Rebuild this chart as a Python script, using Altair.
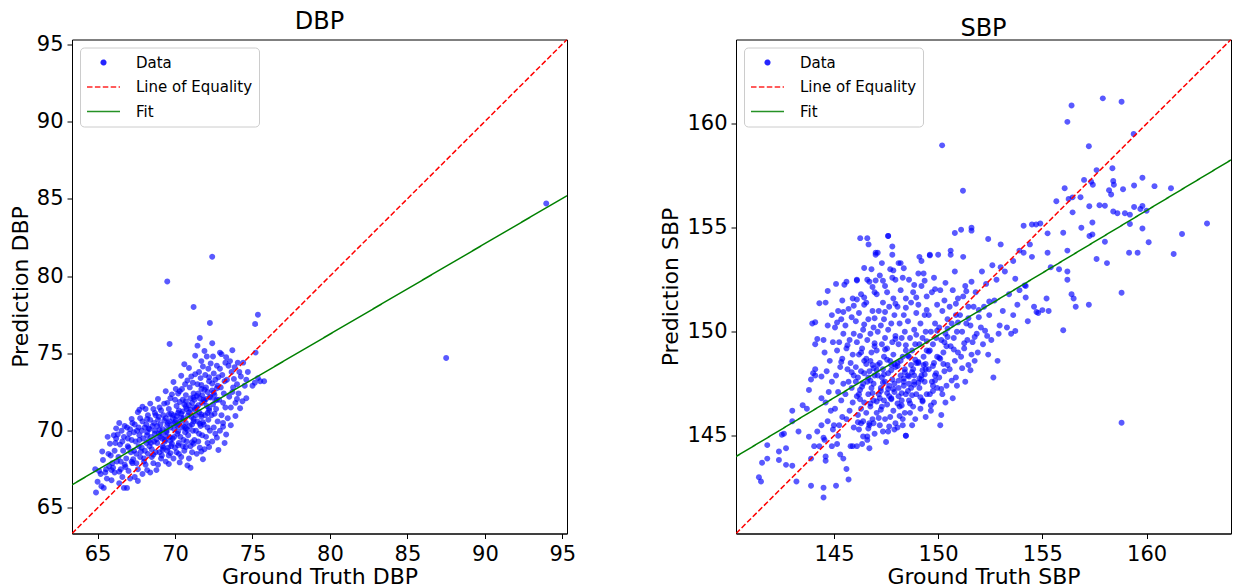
import altair as alt
import pandas as pd

FONT = "DejaVu Sans"

# ---------------- values ----------------
series_names = ["Data", "Line of Equality", "Fit"]
series_colors = ["#0000ff", "#ff0000", "#008000"]

# DBP panel: (ground truth, prediction)
dbp_points = [
    (64.9,66.0),(65.0,66.7),(65.2,67.2),(64.85,67.5),(65.1,67.4),(65.25,66.4),
    (65.4,66.3),(65.6,66.9),(65.5,67.3),(65.75,67.7),(65.35,68.1),(65.65,69.6),(65.55,67.5),(65.7,68.5),
    (65.9,66.8),(66.1,67.3),(66.0,67.6),(66.25,68.0),(65.85,68.4),(66.15,69.2),(66.05,69.7),(66.2,69.5),(66.1,68.7),(65.95,67.9),
    (66.4,66.6),(66.6,67.0),(66.5,67.5),(66.75,67.8),(66.35,68.3),(66.65,68.7),(66.45,69.1),(66.7,69.6),(66.55,70.0),(66.4,70.5),(66.75,70.3),(66.6,69.3),(66.5,68.0),(66.7,66.3),
    (66.9,66.3),(67.1,66.9),(67.0,67.4),(67.25,67.9),(66.85,68.2),(67.15,68.6),(66.95,69.0),(67.2,69.4),(67.05,69.8),(66.9,70.2),(67.25,70.5),(67.1,70.1),(67.0,68.9),(67.2,68.0),(66.95,69.5),
    (67.4,67.0),(67.6,67.5),(67.5,67.9),(67.75,68.3),(67.35,68.7),(67.65,69.0),(67.45,69.3),(67.7,69.7),(67.55,70.0),(67.4,70.4),(67.75,70.8),(67.6,71.2),(67.5,68.5),(67.7,69.4),(67.35,69.9),(67.65,70.2),
    (67.9,67.2),(68.1,67.8),(68.0,68.2),(68.25,68.5),(67.85,68.9),(68.15,69.2),(67.95,69.5),(68.2,69.9),(68.05,70.2),(67.9,70.6),(68.25,71.0),(68.1,71.4),(68.0,68.0),(68.2,69.7),(67.85,70.0),(68.15,70.4),(68.05,68.7),
    (68.4,67.3),(68.6,67.9),(68.5,68.3),(68.75,68.6),(68.35,69.0),(68.65,69.3),(68.45,69.6),(68.7,70.0),(68.55,70.3),(68.4,70.7),(68.75,71.0),(68.6,71.4),(68.5,68.8),(68.7,69.8),(68.35,70.1),(68.65,70.5),(68.45,69.2),
    (68.9,67.8),(69.1,68.2),(69.0,68.6),(69.25,68.9),(68.85,69.2),(69.15,69.5),(68.95,69.8),(69.2,70.1),(69.05,70.4),(68.9,70.7),(69.25,71.0),(69.1,71.3),(69.0,71.5),(69.2,69.0),(68.85,70.3),(69.15,68.4),(69.05,69.6),(68.95,70.9),
    (69.4,68.0),(69.6,68.4),(69.5,68.7),(69.75,69.0),(69.35,69.3),(69.65,69.6),(69.45,69.9),(69.7,70.2),(69.55,70.5),(69.4,70.8),(69.75,71.1),(69.6,71.4),(69.5,71.8),(69.7,72.1),(69.35,69.4),(69.65,70.6),(69.5,79.65),(69.65,75.6),(69.45,70.0),(69.55,68.9),
    (69.9,68.2),(70.1,68.6),(70.0,68.9),(70.25,69.2),(69.85,69.5),(70.15,69.8),(69.95,70.1),(70.2,70.4),(70.05,70.7),(69.9,71.0),(70.25,71.3),(70.1,71.6),(70.0,72.0),(70.2,72.4),(70.05,72.7),(69.95,69.6),(70.15,70.3),(70.25,68.5),(69.85,70.8),
    (70.4,68.3),(70.6,68.7),(70.5,69.0),(70.75,69.3),(70.35,69.6),(70.65,69.9),(70.45,70.2),(70.7,70.5),(70.55,70.8),(70.4,71.1),(70.75,71.4),(70.6,71.7),(70.5,72.0),(70.7,72.3),(70.45,72.7),(70.65,73.0),(70.6,74.3),(70.55,69.4),(70.35,70.6),(70.7,71.9),
    (70.9,68.2),(71.1,68.6),(71.0,69.0),(71.25,69.4),(70.85,69.7),(71.15,70.0),(70.95,70.3),(71.2,70.6),(71.05,70.9),(70.9,71.2),(71.25,71.5),(71.1,71.8),(71.0,72.1),(71.2,72.4),(70.95,72.8),(71.15,73.1),(71.05,73.5),(71.2,78.0),(71.0,67.6),(71.1,70.4),(70.85,71.0),(71.25,72.0),
    (71.4,68.5),(71.6,68.9),(71.5,69.3),(71.75,69.7),(71.35,70.0),(71.65,70.3),(71.45,70.6),(71.7,70.9),(71.55,71.2),(71.4,71.5),(71.75,71.8),(71.6,72.1),(71.5,72.4),(71.7,72.7),(71.45,73.0),(71.65,73.4),(71.55,73.8),(71.7,74.5),(71.45,75.5),(71.6,76.0),(71.35,71.0),(71.55,69.8),(71.75,72.3),
    (71.9,68.8),(72.1,69.2),(72.0,69.6),(72.25,70.0),(71.85,70.4),(72.15,70.7),(71.95,71.0),(72.2,71.3),(72.05,71.6),(71.9,71.9),(72.25,72.2),(72.1,72.5),(72.0,72.8),(72.2,73.2),(71.95,73.6),(72.15,74.0),(72.05,74.8),(72.25,76.96),(72.1,70.2),(71.85,72.0),
    (72.4,69.3),(72.6,69.8),(72.5,70.2),(72.75,70.6),(72.35,71.0),(72.65,71.4),(72.45,71.7),(72.7,72.0),(72.55,72.3),(72.4,72.6),(72.75,72.9),(72.6,73.3),(72.5,73.7),(72.7,74.2),(72.45,74.8),(72.4,75.65),(72.4,81.25),(72.55,71.1),
    (73.2,69.2),(72.9,70.0),(73.1,70.5),(73.0,71.0),(73.25,71.5),(72.85,72.0),(73.15,72.4),(72.95,72.8),(73.2,73.2),(73.05,73.6),(72.9,74.0),(73.25,74.4),(73.0,74.95),(73.1,71.8),
    (73.4,70.8),(73.6,71.5),(73.5,72.2),(73.75,72.8),(73.35,73.3),(73.65,73.8),(73.45,74.2),(73.7,72.5),(73.7,75.2),(73.55,74.5),
    (73.9,71.8),(74.1,72.4),(74.0,73.0),(74.25,73.5),(73.85,74.1),(74.15,73.8),(74.05,74.4),
    (74.35,71.9),(74.6,72.1),(74.5,72.9),(74.7,73.8),(74.4,74.4),(74.6,73.3),
    (75.0,72.9),(75.15,73.1),(75.2,75.05),(75.17,76.9),(75.35,73.4),(75.5,73.2),(75.35,77.5),(75.75,73.2),
    (87.5,74.7),(93.96,84.69),
    # denser core
    (68.3,70.15),(68.8,69.45),(69.3,70.65),(69.8,69.15),(70.3,71.85),(70.8,70.05),(71.3,71.35),(71.8,70.55),(72.3,72.15),(69.6,71.05),
    (70.1,70.95),(70.6,70.25),(71.1,69.25),(71.6,70.45),(72.1,71.15),(72.6,71.95),(69.1,69.85),(69.4,69.65),(69.9,70.45),(70.4,70.85),
    (70.9,71.65),(71.4,72.25),(71.9,72.65),(72.4,73.05),(72.8,73.45),(68.6,68.45),(69.2,68.75),(69.7,68.55),(70.2,69.05),(70.7,68.95),
    (71.2,69.15),(71.7,68.65),(72.2,68.95),(72.7,69.55),(73.1,70.25),(68.2,70.75),(68.7,71.15),(69.3,71.75),(69.8,72.35),(70.3,72.55),
    (70.8,73.25),(71.3,73.65),(71.8,74.15),(72.3,74.35),(66.8,67.65),(67.3,68.15),(67.8,68.65),(68.3,69.35),(67.2,70.75),(67.7,71.35),
    (66.2,70.15),(65.8,69.15),(66.3,69.75),(65.3,68.65),(65.9,67.45),(66.4,67.35),(67.6,66.75),(68.2,67.45),(68.8,67.45),(69.6,67.85),
    (70.3,67.95),(70.8,67.75),(71.8,68.15),(72.8,68.75),(73.3,69.75),(73.6,70.35),(73.9,70.95),(74.2,71.45),(74.0,72.05),(73.8,73.35),
    (73.3,74.75),(72.9,75.05),(71.9,75.15),(71.3,74.85),(70.9,74.05),(70.4,73.55),(69.9,73.15),(69.4,72.55),(68.9,72.05),(68.4,71.75),
    (67.9,71.55),(69.0,70.05),(69.5,70.35),(70.0,70.55),(70.5,71.25),(71.0,71.35),(71.5,71.65),(72.0,72.05),(72.5,72.45),(70.2,69.95),
    (70.7,70.15),(71.2,70.75),(71.7,71.05),(72.2,71.45),(72.7,72.75),(69.7,69.35),(70.2,71.15),(70.7,71.55),(71.2,72.15),(71.7,72.95),(72.2,73.45),
]
dbp_limits = [63.35, 95.3]
dbp_fit_truth = [63.35, 95.3]
dbp_fit_pred = [66.5, 85.2]
dbp_ticks = [65, 70, 75, 80, 85, 90, 95]

# SBP panel: (ground truth, prediction)
sbp_points = [
    # core
    (144.6,151.4),(144.9,150.8),(144.7,150.3),(144.95,149.5),(144.55,149.0),(144.8,148.6),(144.65,148.1),(144.9,147.6),(144.75,147.1),(144.6,146.6),(144.85,146.2),(144.7,145.7),(144.95,145.3),(144.55,144.8),
    (145.1,152.3),(145.4,151.5),(145.2,151.0),(145.35,150.6),(145.05,150.2),(145.45,149.9),(145.25,149.5),(145.15,149.1),(145.4,148.7),(145.3,148.3),(145.1,147.9),(145.45,147.5),(145.2,147.1),(145.35,146.7),(145.05,146.3),(145.4,145.9),(145.25,145.5),(145.15,144.6),(145.45,143.9),
    (145.6,152.4),(145.9,151.6),(145.7,151.1),(145.85,150.7),(145.55,150.3),(145.95,149.9),(145.75,149.6),(145.6,149.2),(145.9,148.9),(145.8,148.5),(145.65,148.2),(145.95,147.9),(145.7,147.6),(145.85,147.3),(145.55,147.0),(145.9,146.6),(145.75,146.2),(145.6,145.8),(145.95,145.4),(145.8,144.5),
    (146.1,152.5),(146.3,151.8),(146.45,151.3),(146.2,150.9),(146.05,150.5),(146.4,150.1),(146.25,149.8),(146.1,149.5),(146.35,149.2),(146.2,148.9),(146.45,148.6),(146.05,148.3),(146.3,148.1),(146.15,147.8),(146.4,147.5),(146.25,147.2),(146.1,146.9),(146.45,146.6),(146.3,146.3),(146.15,146.0),(146.4,145.7),(146.2,145.3),(146.35,144.6),(146.05,147.6),(146.45,148.0),(146.2,147.0),(146.3,149.0),
    (146.6,154.5),(146.8,153.0),(146.7,152.4),(146.95,151.9),(146.55,151.4),(146.85,151.0),(146.65,150.6),(146.9,150.2),(146.75,149.9),(146.6,149.6),(146.95,149.3),(146.8,149.0),(146.55,148.7),(146.85,148.4),(146.7,148.1),(146.95,147.9),(146.6,147.6),(146.8,147.3),(146.65,147.0),(146.9,146.7),(146.75,146.4),(146.55,146.1),(146.85,145.8),(146.7,145.5),(146.95,145.1),(146.6,144.8),(146.75,148.6),(146.9,147.5),(146.65,147.8),
    (147.1,153.8),(147.3,153.3),(147.2,152.7),(147.45,152.2),(147.05,151.8),(147.35,151.4),(147.15,151.0),(147.4,150.6),(147.25,150.3),(147.1,150.0),(147.45,149.7),(147.3,149.4),(147.05,149.1),(147.4,148.8),(147.2,148.5),(147.35,148.2),(147.1,147.9),(147.45,147.6),(147.25,147.3),(147.15,147.0),(147.4,146.7),(147.3,146.4),(147.05,146.1),(147.45,145.8),(147.2,145.5),(147.35,145.2),(147.1,148.4),(147.3,147.8),(147.2,146.8),
    (147.6,154.6),(147.8,153.7),(147.7,153.0),(147.95,152.5),(147.55,151.9),(147.85,151.6),(147.65,151.2),(147.9,150.8),(147.75,150.4),(147.6,150.1),(147.95,149.8),(147.8,149.5),(147.55,149.2),(147.85,148.9),(147.7,148.6),(147.95,148.3),(147.6,148.0),(147.8,147.7),(147.65,147.4),(147.9,147.1),(147.75,146.8),(147.55,146.5),(147.85,146.2),(147.7,145.9),(147.95,145.6),(147.6,145.2),(147.75,148.4),(147.9,147.5),(147.65,146.9),
    (148.1,153.3),(148.3,152.6),(148.2,152.0),(148.45,151.6),(148.05,151.2),(148.35,150.8),(148.15,150.4),(148.4,150.0),(148.25,149.7),(148.1,149.4),(148.45,149.1),(148.3,148.8),(148.05,148.5),(148.4,148.2),(148.2,147.9),(148.35,147.6),(148.1,147.3),(148.45,147.0),(148.25,146.7),(148.15,146.4),(148.4,146.1),(148.3,145.8),(148.05,145.4),(148.45,145.0),(148.2,148.6),(148.35,147.4),(148.1,146.9),
    (148.6,152.5),(148.8,151.9),(148.7,151.4),(148.95,150.9),(148.55,150.5),(148.85,150.1),(148.65,149.7),(148.9,149.4),(148.75,149.1),(148.6,148.8),(148.95,148.5),(148.8,148.2),(148.55,147.9),(148.85,147.6),(148.7,147.3),(148.95,147.0),(148.6,146.7),(148.8,146.4),(148.65,146.1),(148.9,145.8),(148.75,145.5),(148.7,148.4),(148.85,147.9),(148.6,147.5),
    (149.1,153.6),(149.3,152.8),(149.2,152.2),(149.45,151.7),(149.05,151.3),(149.35,150.8),(149.15,150.4),(149.4,150.0),(149.25,149.7),(149.1,149.4),(149.45,149.1),(149.3,148.8),(149.05,148.5),(149.4,148.2),(149.2,147.9),(149.35,147.6),(149.1,147.3),(149.45,147.0),(149.25,146.7),(149.15,146.3),(149.4,145.9),(149.3,148.4),(149.2,147.7),
    (149.6,153.7),(149.8,152.6),(149.7,151.9),(149.95,151.3),(149.55,150.8),(149.85,150.4),(149.65,150.0),(149.9,149.7),(149.75,149.4),(149.6,149.1),(149.95,148.8),(149.8,148.5),(149.55,148.2),(149.85,147.9),(149.7,147.6),(149.95,147.3),(149.6,147.0),(149.8,146.6),(149.65,146.2),(149.9,148.0),(149.75,147.4),
    (150.1,152.0),(150.3,151.5),(150.2,151.0),(150.45,150.6),(150.05,150.2),(150.35,149.9),(150.15,149.6),(150.4,149.3),(150.25,149.0),(150.1,148.7),(150.45,148.4),(150.3,148.1),(150.05,147.8),(150.4,147.4),(150.2,147.0),(150.35,146.6),(150.15,146.0),(150.1,145.5),(150.3,149.5),
    (150.6,153.9),(150.8,152.9),(150.7,152.0),(150.95,151.6),(150.55,151.2),(150.85,150.8),(150.65,150.4),(150.9,150.0),(150.75,149.7),(150.6,149.3),(150.95,149.0),(150.8,148.6),(150.55,148.2),(150.85,147.8),(150.7,146.8),(150.9,147.4),
    (151.1,154.9),(151.3,152.2),(151.2,151.7),(151.45,151.2),(151.05,150.8),(151.35,150.4),(151.15,150.0),(151.4,149.6),(151.25,149.2),(151.1,148.8),(151.45,148.4),(151.3,147.6),
    (151.6,152.4),(151.8,151.9),(151.7,151.2),(151.95,150.7),(151.55,150.3),(151.85,149.9),(151.65,149.5),(151.9,149.0),(151.75,148.6),(151.6,148.9),
    (152.1,152.9),(152.3,152.3),(152.2,151.2),(152.45,150.8),(152.05,150.2),(152.35,149.8),(152.15,149.4),(152.4,148.9),
    (152.6,153.2),(152.8,152.5),(152.7,151.5),(152.95,150.3),(152.55,149.6),(152.85,148.6),(152.65,147.8),(152.9,149.9),
    (153.2,152.9),(153.4,151.8),(153.1,151.0),(153.6,150.8),(153.3,150.2),(153.8,151.3),(153.5,149.9),(153.9,152.0),
    (154.1,155.1),(154.4,154.2),(154.2,152.2),(154.6,151.2),(154.8,150.9),(154.5,153.6),(154.9,155.2),(154.3,150.5),
    # denser core
    (146.35,147.35),(146.85,147.05),(147.35,147.55),(147.85,147.25),(148.35,147.75),(148.85,147.45),(149.35,147.95),(149.85,147.65),
    (146.55,148.45),(147.05,148.15),(147.55,148.65),(148.05,148.35),(148.55,148.85),(149.05,148.55),(149.55,149.05),(150.05,148.75),
    (146.75,146.55),(147.25,146.25),(147.75,146.75),(148.25,146.45),(148.75,146.95),(149.25,146.65),(149.75,147.15),(146.95,149.45),
    (147.45,149.15),(147.95,149.65),(148.45,149.35),(148.95,149.85),(149.45,149.55),(149.95,150.05),(150.45,149.75),(146.45,150.35),
    (146.95,150.65),(147.45,150.95),(147.95,151.35),(148.45,151.15),(148.95,151.65),(149.45,151.05),(146.15,145.65),(146.65,145.35),
    (147.15,145.85),(147.65,145.45),(148.15,145.95),(148.65,146.55),(149.15,146.85),(149.65,146.45),(150.15,147.25),(150.65,147.65),
    (151.15,148.25),(151.55,148.15),(150.45,150.15),(150.95,150.45),(151.45,150.65),(151.95,151.05),(152.45,151.45),(152.25,150.05),
    (151.75,149.75),(151.25,149.45),(150.75,149.15),(150.25,148.45),(145.85,148.05),(145.35,148.55),(145.65,149.35),(145.15,150.45),
    (145.45,150.95),(145.95,151.25),(146.45,151.65),(146.85,152.15),(147.35,152.45),(147.85,152.95),(148.35,153.05),(148.85,152.25),
    (149.35,152.45),(149.85,152.05),(150.35,152.35),(150.85,151.35),(151.35,151.95),(146.25,146.75),(146.75,147.65),(147.25,147.15),
    (147.75,148.15),(148.25,147.05),(148.75,148.05),(149.25,148.15),(149.75,148.35),(147.05,146.65),(147.55,147.05),(148.05,146.55),
    (148.55,147.15),(149.05,147.55),(147.4,147.95),(147.9,148.45),(148.4,148.05),(148.9,148.65),(149.4,148.45),(147.6,147.25),
    (148.1,147.65),(148.6,147.85),(149.1,147.75),(146.9,148.25),
    # upper / right spread
    (156.4,160.88),(156.2,160.09),(157.9,161.22),(158.8,161.06),(159.38,159.51),(150.19,158.96),(157.23,158.92),(151.19,156.78),
    (157.6,157.77),(158.36,157.86),(157.34,157.21),(157.42,157.07),(157.0,157.3),(158.4,157.25),(158.43,157.07),(158.87,156.85),
    (159.4,157.03),(159.8,157.4),(160.38,157.0),(161.17,156.9),(156.07,156.9),(156.26,156.38),(156.45,156.46),(156.83,156.47),
    (155.67,156.27),(158.2,156.8),(158.3,156.6),(157.25,156.03),(157.74,156.08),(158.0,156.06),(158.4,155.78),(158.6,155.7),
    (158.96,155.7),(159.2,155.63),(159.4,156.0),(159.7,155.9),(159.8,156.05),(160.0,155.82),(156.45,155.74),(159.2,155.18),
    (159.8,154.96),(162.9,155.2),(161.7,154.7),(156.87,155.0),(157.4,155.25),(154.5,155.16),(154.7,155.16),(155.25,154.73),
    (156.0,154.76),(157.26,154.6),(157.4,154.68),(158.0,154.33),(159.16,153.8),(159.57,153.8),(160.1,154.3),(161.3,153.74),
    (157.6,153.5),(158.1,153.3),(156.2,153.9),(155.25,153.8),(153.9,153.9),(154.1,153.8),(155.4,153.1),(155.8,153.0),
    (156.2,152.9),(156.2,152.5),(156.4,151.8),(156.5,151.6),(156.6,151.2),(157.23,151.3),(158.8,151.87),(156.0,150.07),
    (158.8,145.62),(155.3,151.0),(155.0,151.04),(154.72,150.95),(155.2,151.6),(154.2,151.65),(153.7,150.04),(154.15,152.23),
    (153.7,152.55),(153.6,153.4),(153.0,153.1),(153.0,154.2),(152.4,154.46),(151.6,154.86),(151.6,155.0),(150.8,154.75),
    (151.2,153.6),(150.6,153.7),(150.0,153.7),(149.6,153.67),(149.2,153.4),(149.05,152.8),(148.2,153.3),(147.8,154.1),
    (147.6,154.6),(147.0,153.8),(147.0,153.7),(146.66,154.2),(146.26,154.5),(146.45,153.06),(146.1,152.46),(146.6,152.5),
    (147.0,152.46),(147.8,152.6),(145.5,152.26),(144.7,151.96),(146.1,151.55),(144.3,151.37),(143.96,150.4),(144.1,150.46),
    # lower-left spread
    (141.4,143.0),(141.5,142.8),(141.55,143.7),(141.8,144.55),(141.8,143.9),(142.36,144.24),(142.36,143.83),(142.7,143.6),
    (143.0,143.56),(142.5,145.05),(142.6,145.1),(143.0,145.7),(142.7,144.4),(143.0,146.2),(143.3,145.2),(143.2,142.8),
    (143.5,146.47),(143.7,146.3),(143.9,142.6),(143.9,143.9),(143.8,144.95),(144.2,145.2),(144.05,144.5),(143.8,147.2),
    (143.9,147.7),(144.1,147.9),(144.0,148.0),(144.1,148.2),(144.1,149.4),(144.2,149.65),(144.5,149.6),(144.4,147.85),
    (144.4,146.8),(144.4,145.5),(144.5,144.9),(144.3,144.5),(144.6,144.0),(144.6,143.8),(144.5,142.5),(144.5,142.03),
    (145.1,142.6),(144.9,144.5),(145.3,144.1),(145.6,143.4),(145.7,142.9),(145.0,145.5),(145.2,145.0),(145.9,144.5),
    (146.1,144.5),(146.7,144.4),(146.4,144.96),(146.6,144.96),(146.3,145.6),(146.7,145.6),(146.9,145.6),(147.5,144.7),
    (148.45,145.0),(147.9,145.3),(148.3,145.5),
]
sbp_limits = [140.3, 164.05]
sbp_fit_truth = [140.3, 164.05]
sbp_fit_pred = [144.0, 158.26]
sbp_ticks = [145, 150, 155, 160]

# ---------------- styling ----------------
DOT_PATH = "M -0.14 0 A 0.14 0.14 0 1 0 0.14 0 A 0.14 0.14 0 1 0 -0.14 0 Z"
shape_range = [DOT_PATH, "stroke", "stroke"]
dash_range = [[1, 0], [5.5, 2.4], [1, 0]]

legend = alt.Legend(
    title=None, orient="top-left", offset=8, padding=6,
    strokeColor="#cccccc", fillColor="white", cornerRadius=4,
    labelFont=FONT, labelFontSize=15, labelColor="black", labelOffset=15,
    symbolSize=1089, symbolStrokeWidth=1.5, symbolOpacity=0.85,
    clipHeight=18, rowPadding=6.5,
)


def panel(points, limits, fit_truth, fit_pred, ticks, name):
    pts = pd.DataFrame({
        "truth": [p[0] for p in points],
        "pred": [p[1] for p in points],
        "series": "Data",
    })
    eq = pd.DataFrame({"truth": limits, "pred": limits, "series": "Line of Equality"})
    fit = pd.DataFrame({"truth": fit_truth, "pred": fit_pred, "series": "Fit"})

    x = alt.X("truth:Q", scale=alt.Scale(domain=limits, nice=False, zero=False),
              axis=alt.Axis(values=ticks, title=f"Ground Truth {name}",
                            labelPadding=5, titlePadding=2))
    y = alt.Y("pred:Q", scale=alt.Scale(domain=limits, nice=False, zero=False),
              axis=alt.Axis(values=ticks, title=f"Prediction {name}"))
    color = alt.Color("series:N", scale=alt.Scale(domain=series_names, range=series_colors), legend=legend)
    shape = alt.Shape("series:N", scale=alt.Scale(domain=series_names, range=shape_range), legend=legend)
    dash = alt.StrokeDash("series:N", scale=alt.Scale(domain=series_names, range=dash_range), legend=legend)

    scatter = alt.Chart(pts).mark_point(filled=True, size=1800, opacity=0.65, clip=True).encode(
        x=x, y=y, color=color, shape=shape)
    eq_line = alt.Chart(eq).mark_line(strokeWidth=1.5, clip=True).encode(
        x=x, y=y, color=color, strokeDash=dash)
    fit_line = alt.Chart(fit).mark_line(strokeWidth=1.5, clip=True).encode(
        x=x, y=y, color=color, strokeDash=dash)

    return alt.layer(scatter, eq_line, fit_line).properties(
        width=495, height=494,
        title=alt.TitleParams(name, font=FONT, fontSize=24, fontWeight="normal",
                              color="black", offset=-1, frame="group"),
    )


left = panel(dbp_points, dbp_limits, dbp_fit_truth, dbp_fit_pred, dbp_ticks, "DBP")
right = panel(sbp_points, sbp_limits, sbp_fit_truth, sbp_fit_pred, sbp_ticks, "SBP")

chart = alt.hconcat(left, right, spacing=169, bounds="flush").resolve_scale(
    x="independent", y="independent", color="independent",
    shape="independent", strokeDash="independent",
).resolve_legend(
    color="independent", shape="independent", strokeDash="independent",
).properties(
    padding={"left": 8, "top": 9.5, "right": 5, "bottom": 0},
).configure_axis(
    labelFont=FONT, titleFont=FONT, labelFontSize=21, titleFontSize=22,
    labelColor="black", titleColor="black", titleFontWeight="normal",
    tickColor="black", domainColor="black", tickSize=5, labelPadding=4,
    titlePadding=4, grid=False,
).configure_view(
    stroke="black", strokeWidth=1,
)

chart.save("out.html", embed_options={"renderer": "svg", "actions": False})
